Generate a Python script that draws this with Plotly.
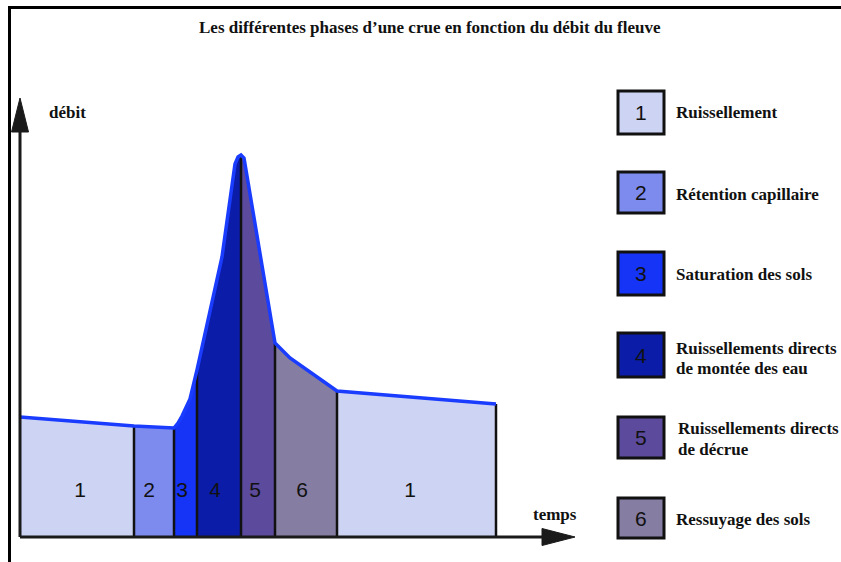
import plotly.graph_objects as go

W, H = 841, 562
OFF = 0  # body margin is removed by the post script below

# ---------------- data ----------------
temps = [0, 22.8, 30.8, 31.6, 32.4, 33.2, 34, 35.4, 38.6, 40.4, 43, 43.6, 44.2, 44.8, 51, 54, 63.4, 95.2]
debit = [30, 27.75, 27.25, 28.5, 30.25, 32.25, 34.5, 41.75, 60, 70, 93.25, 95, 95.5, 94.75, 48.5, 44.75, 36.5, 33.25]
limites = [0, 22.8, 30.8, 35.4, 44.2, 51, 63.4, 95.2]
phases = ["1", "2", "3", "4", "5", "6", "1"]
label_t = [12, 25.8, 32.4, 39, 47, 56.4, 78]
label_q = 11.25

couleurs = {
    "1": "#CDD3F2",
    "2": "#7D8BEF",
    "3": "#1634F5",
    "4": "#0A1CA8",
    "5": "#5C4A9C",
    "6": "#857DA2",
}
legende_num = ["1", "2", "3", "4", "5", "6"]
legende_txt = [
    ["Ruissellement"],
    ["Rétention capillaire"],
    ["Saturation des sols"],
    ["Ruissellements directs", "de montée des eau"],
    ["Ruissellements directs", "de décrue"],
    ["Ressuyage des sols"],
]
titre = "Les différentes phases d’une crue en fonction du débit du fleuve"
label_y = "débit"
label_x = "temps"

# axis geometry (data units): 1 time unit = 5 px, 1 debit unit = 4 px
X_MIN, X_MAX = (0 - (20 - OFF)) / 5, (W - (20 - OFF)) / 5
Y_MAX, Y_MIN = (537 - OFF) / 4, (537 - OFF - H) / 4
Y_ARROW_TIP, Y_ARROW_BASE, Y_HALF = 109.75, 101.25, 1.7
X_ARROW_TIP, X_ARROW_BASE, X_HALF = 111, 104.4, 2.125


def q_at(t):
    return debit[temps.index(t)]


def PX(x):
    return (x - OFF) / W


def PY(y):
    return 1 - (y - OFF) / H


fig = go.Figure()

# phase fills
for i, ph in enumerate(phases):
    a, b = limites[i], limites[i + 1]
    xs = [a] + [t for t in temps if a <= t <= b] + [b, a]
    ys = [0] + [q for t, q in zip(temps, debit) if a <= t <= b] + [0, 0]
    fig.add_trace(go.Scatter(x=xs, y=ys, fill="toself", fillcolor=couleurs[ph],
                             mode="lines", line=dict(width=0), hoverinfo="skip",
                             showlegend=False))

# separators
sx, sy = [], []
for t in limites[1:]:
    sx += [t, t, None]
    sy += [0, q_at(t), None]
fig.add_trace(go.Scatter(x=sx, y=sy, mode="lines", line=dict(color="#111111", width=2.5),
                         hoverinfo="skip", showlegend=False))

# hydrograph curve
fig.add_trace(go.Scatter(x=temps, y=debit, mode="lines",
                         line=dict(color="#1A3CFF", width=3.5), hoverinfo="skip",
                         showlegend=False))

# phase numbers
fig.add_trace(go.Scatter(x=label_t, y=[label_q] * len(label_t), mode="text", text=phases,
                         textfont=dict(family="Liberation Sans", size=21, color="#111111"),
                         hoverinfo="skip", showlegend=False))

shapes = []
ax_col = "#1a1a1a"
# axes
shapes.append(dict(type="line", xref="x", yref="y", x0=0, y0=0, x1=0, y1=Y_ARROW_BASE,
                   line=dict(color=ax_col, width=3)))
shapes.append(dict(type="line", xref="x", yref="y", x0=0, y0=0, x1=X_ARROW_BASE, y1=0,
                   line=dict(color=ax_col, width=3)))
shapes.append(dict(type="path", xref="x", yref="y",
                   path=f"M {-Y_HALF},{Y_ARROW_BASE} L 0,{Y_ARROW_TIP} L {Y_HALF},{Y_ARROW_BASE} Z",
                   fillcolor=ax_col, line=dict(color=ax_col, width=1)))
shapes.append(dict(type="path", xref="x", yref="y",
                   path=f"M {X_ARROW_BASE},{-X_HALF} L {X_ARROW_TIP},0 L {X_ARROW_BASE},{X_HALF} Z",
                   fillcolor=ax_col, line=dict(color=ax_col, width=1)))

# frame
shapes.append(dict(type="path", xref="paper", yref="paper",
                   path=f"M {PX(9.5)},{PY(580)} L {PX(9.5)},{PY(7.5)} L {PX(860)},{PY(7.5)}",
                   line=dict(color="black", width=3)))

annotations = [
    dict(text=f"<b>{titre}</b>", x=PX(430), y=PY(27), xref="paper", yref="paper",
         showarrow=False, font=dict(family="Liberation Serif", size=17, color="#111111"),
         xanchor="center", yanchor="middle"),
    dict(text=f"<b>{label_y}</b>", x=PX(47), y=PY(112), xref="paper", yref="paper",
         showarrow=False, font=dict(family="Liberation Serif", size=17, color="#111111"),
         xanchor="left", yanchor="middle"),
    dict(text=f"<b>{label_x}</b>", x=PX(531), y=PY(514), xref="paper", yref="paper",
         showarrow=False, font=dict(family="Liberation Serif", size=17, color="#111111"),
         xanchor="left", yanchor="middle"),
]

# legend
box_top = [91, 172, 252, 333, 417, 498]
box_bot = [134, 213, 295, 377, 458, 538]
text_y = [[113], [194], [275], [348, 368], [428, 449], [519]]
text_x = [674, 674, 674, 674, 676, 674]
for i, num in enumerate(legende_num):
    shapes.append(dict(type="rect", xref="paper", yref="paper",
                       x0=PX(618), x1=PX(664), y0=PY(box_bot[i]), y1=PY(box_top[i]),
                       fillcolor=couleurs[num], line=dict(color="#111111", width=3)))
    annotations.append(dict(text=num, x=PX(641), y=PY((box_top[i] + box_bot[i]) / 2),
                            xref="paper", yref="paper", showarrow=False,
                            font=dict(family="Liberation Sans", size=21, color="#111111"),
                            xanchor="center", yanchor="middle"))
    for line_txt, yy in zip(legende_txt[i], text_y[i]):
        annotations.append(dict(text=f"<b>{line_txt}</b>", x=PX(text_x[i]), y=PY(yy),
                                xref="paper", yref="paper", showarrow=False,
                                font=dict(family="Liberation Serif", size=17, color="#111111"),
                                xanchor="left", yanchor="middle"))

fig.update_layout(
    width=W, height=H, autosize=False,
    margin=dict(l=0, r=0, t=0, b=0),
    paper_bgcolor="white", plot_bgcolor="white",
    xaxis=dict(range=[X_MIN, X_MAX], visible=False, fixedrange=True),
    yaxis=dict(range=[Y_MIN, Y_MAX], visible=False, fixedrange=True),
    shapes=shapes, annotations=annotations, showlegend=False,
)

fig.write_html("out.html",
               config={"displayModeBar": False, "staticPlot": True},
               post_script="document.body.style.margin='0px';document.body.style.overflow='hidden';")
